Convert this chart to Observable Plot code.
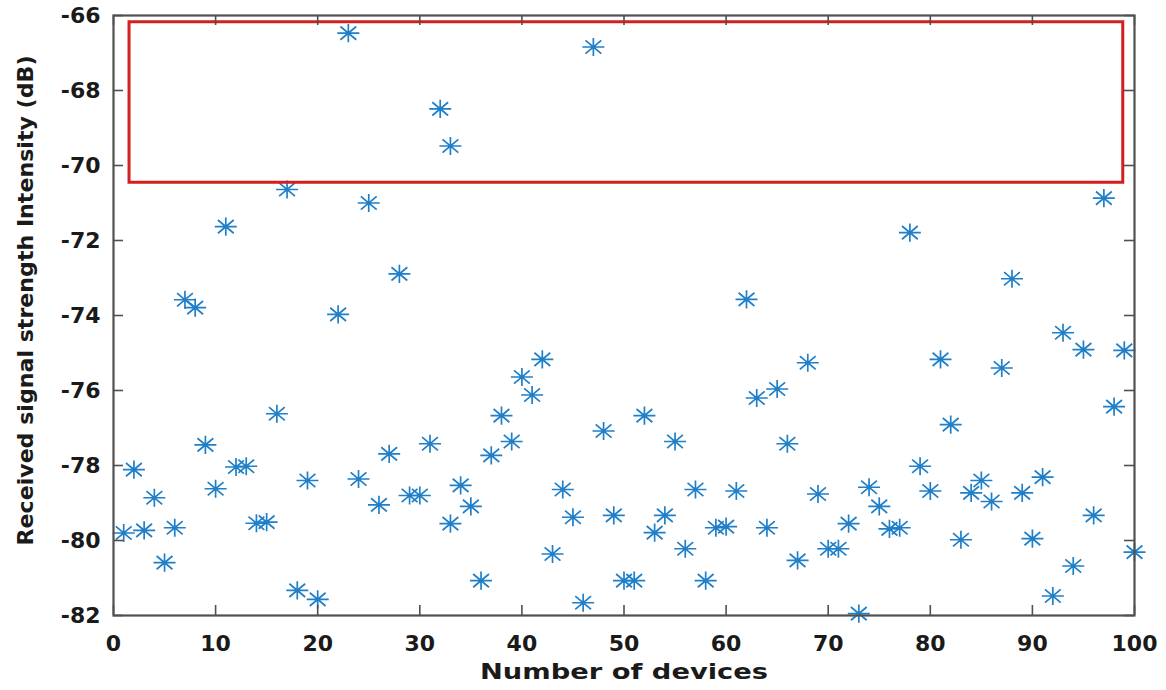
<!DOCTYPE html>
<html>
<head>
<meta charset="utf-8">
<script src="https://cdn.jsdelivr.net/npm/d3@7"></script>
<script src="https://cdn.jsdelivr.net/npm/@observablehq/plot@0.6"></script>
<style>
  html, body { margin: 0; padding: 0; background: #fff; }
  #chart svg { display: block; }
</style>
</head>
<body>
<div id="chart"></div>
<script>
// Device index (x) and received signal strength in dB (y)
const devices = [
  1, 2, 3, 4, 5, 6, 7, 8, 9, 10,
  11, 12, 13, 14, 15, 16, 17, 18, 19, 20,
  22, 23, 24, 25, 26, 27, 28, 29, 30, 31,
  32, 33, 33, 34, 35, 36, 37, 38, 39, 40,
  41, 42, 43, 44, 45, 46, 47, 48, 49, 50,
  51, 52, 53, 54, 55, 56, 57, 58, 59, 60,
  61, 62, 63, 64, 65, 66, 67, 68, 69, 70,
  71, 72, 73, 74, 75, 76, 77, 78, 79, 80,
  81, 82, 83, 84, 85, 86, 87, 88, 89, 90,
  91, 92, 93, 94, 95, 96, 97, 98, 99, 100
];
const rss = [
  -79.80, -78.11, -79.73, -78.86, -80.59, -79.66, -73.58, -73.79, -77.45, -78.62,
  -71.63, -78.04, -78.02, -79.54, -79.51, -76.62, -70.64, -81.33, -78.40, -81.57,
  -73.97, -66.47, -78.36, -71.00, -79.05, -77.69, -72.89, -78.80, -78.80, -77.42,
  -68.49, -69.48, -79.55, -78.53, -79.09, -81.07, -77.73, -76.67, -77.36, -75.64,
  -76.12, -75.17, -80.36, -78.64, -79.38, -81.66, -66.84, -77.08, -79.33, -81.07,
  -81.07, -76.67, -79.79, -79.33, -77.36, -80.22, -78.64, -81.07, -79.66, -79.63,
  -78.68, -73.57, -76.20, -79.66, -75.96, -77.42, -80.53, -75.26, -78.76, -80.22,
  -80.22, -79.55, -81.95, -78.58, -79.09, -79.69, -79.66, -71.79, -78.02, -78.68,
  -75.17, -76.91, -79.98, -78.73, -78.40, -78.96, -75.40, -73.02, -78.73, -79.95,
  -78.31, -81.48, -74.46, -80.68, -74.91, -79.33, -70.87, -76.43, -74.93, -80.31
];

// Highlight box (red rectangle), in data units
const boxX = [1.57, 98.9];
const boxY = [-70.46, -66.18];

// Ticks and labels
const xTicks = [0, 10, 20, 30, 40, 50, 60, 70, 80, 90, 100];
const yTicks = [-82, -80, -78, -76, -74, -72, -70, -68, -66];
const xTitle = "Number of devices";
const yTitle = "Received signal strength Intensity (dB)";

const points = devices.map((d, i) => ({x: d, y: rss[i]}));
const box = [{x1: boxX[0], x2: boxX[1], y1: boxY[0], y2: boxY[1]}];

// MATLAB-style 8-armed asterisk marker
const asterisk = {
  draw(context, size) {
    const r = Math.sqrt(size / Math.PI);
    const ry = r * 0.82;
    context.moveTo(-r, 0); context.lineTo(r, 0);
    context.moveTo(0, -ry); context.lineTo(0, ry);
    context.moveTo(-0.72 * r, -0.6 * r); context.lineTo(0.72 * r, 0.6 * r);
    context.moveTo(-0.72 * r, 0.6 * r); context.lineTo(0.72 * r, -0.6 * r);
  }
};

const W = 1166, H = 690;
const mL = 113, mR = 32, mT = 15, mB = 75;
const plotW = W - mL - mR, plotH = H - mT - mB;
const tickLen = 10;
const axisColor = "#505050";
const tickFont = "'DejaVu Sans', 'Liberation Sans', Arial, sans-serif";

const chart = Plot.plot({
  width: W,
  height: H,
  marginLeft: mL,
  marginRight: mR,
  marginTop: mT,
  marginBottom: mB,
  style: {background: "#fff", fontFamily: tickFont},
  x: {domain: [0, 100]},
  y: {domain: [-82, -66]},
  marks: [
    Plot.dot(points, {
      x: "x", y: "y", r: 11, symbol: asterisk,
      stroke: "#1f7fc8", strokeWidth: 1.7, fill: "none"
    }),
    Plot.rect(box, {
      x1: "x1", x2: "x2", y1: "y1", y2: "y2",
      fill: "none", stroke: "#d21f1f", strokeWidth: 3
    }),
    // inward tick marks on all four sides
    Plot.tickX(xTicks, {x: d => d, stroke: axisColor, strokeWidth: 1.6, insetTop: plotH - tickLen}),
    Plot.tickX(xTicks, {x: d => d, stroke: axisColor, strokeWidth: 1.6, insetBottom: plotH - tickLen}),
    Plot.tickY(yTicks, {y: d => d, stroke: axisColor, strokeWidth: 1.6, insetRight: plotW - tickLen}),
    Plot.tickY(yTicks, {y: d => d, stroke: axisColor, strokeWidth: 1.6, insetLeft: plotW - tickLen}),
    Plot.frame({stroke: axisColor, strokeWidth: 2.2}),
    Plot.axisX({
      ticks: xTicks, tickSize: 0, tickPadding: 20, label: null,
      tickFormat: d => String(d), fontSize: 22, fontWeight: "bold", fill: "#1a1a1a"
    }),
    Plot.axisY({
      ticks: yTicks, tickSize: 0, tickPadding: 13, label: null,
      tickFormat: d => String(d), fontSize: 22, fontWeight: "bold", fill: "#1a1a1a"
    }),
    Plot.text([xTitle], {
      text: d => d, frameAnchor: "bottom", dy: 57,
      textAnchor: "middle", lineAnchor: "middle",
      fontSize: 21, fill: "#1a1a1a", fontWeight: "bold"
    }),
    Plot.text([yTitle], {
      text: d => d, frameAnchor: "left", dx: -88, dy: -15, rotate: -90,
      textAnchor: "middle", lineAnchor: "middle",
      fontSize: 22, fill: "#1a1a1a", fontWeight: "bold"
    })
  ]
});

// stretch the titles to the widths seen in the reference
d3.select(chart).selectAll("text").each(function () {
  const t = this.textContent;
  if (t === xTitle) d3.select(this).attr("textLength", 288).attr("lengthAdjust", "spacingAndGlyphs");
  if (t === yTitle) d3.select(this).attr("textLength", 490).attr("lengthAdjust", "spacingAndGlyphs");
});

document.getElementById("chart").appendChild(chart);
</script>
</body>
</html>
